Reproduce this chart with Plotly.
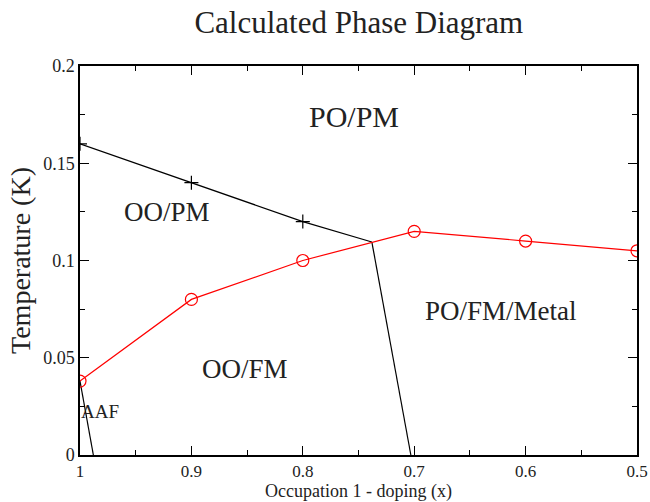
import plotly.graph_objects as go

# Phase boundaries (x = occupation 1 - doping, y = temperature)
upper_x = [1.0, 0.9, 0.8, 0.738]
upper_y = [0.16, 0.14, 0.12, 0.1095]
vert_x = [0.738, 0.703]
vert_y = [0.1095, 0.0]
aaf_x = [1.0, 0.988]
aaf_y = [0.038, 0.0]
cross_x = [1.0, 0.9, 0.8]
cross_y = [0.16, 0.14, 0.12]

# Curie temperature curve
tc_x = [1.0, 0.9, 0.8, 0.7, 0.6, 0.5]
tc_y = [0.038, 0.08, 0.10, 0.115, 0.11, 0.105]

# Region labels
region_names = ["PO/PM", "OO/PM", "OO/FM", "PO/FM/Metal", "AAF"]
region_x = [0.754, 0.922, 0.852, 0.622, 0.982]
region_y = [0.174, 0.125, 0.0442, 0.074, 0.0222]
region_sizes = [30, 27, 27, 27, 19]

FONT = "Liberation Serif, Times New Roman, serif"

fig = go.Figure()
fig.add_trace(go.Scatter(x=upper_x, y=upper_y, mode="lines",
                         line=dict(color="black", width=1.2), showlegend=False))
fig.add_trace(go.Scatter(x=vert_x, y=vert_y, mode="lines",
                         line=dict(color="black", width=1.2), showlegend=False))
fig.add_trace(go.Scatter(x=aaf_x, y=aaf_y, mode="lines",
                         line=dict(color="black", width=1.2), showlegend=False))
fig.add_trace(go.Scatter(x=cross_x, y=cross_y, mode="markers",
                         marker=dict(symbol="cross-thin", size=10,
                                     line=dict(color="black", width=1.2)),
                         showlegend=False))
fig.add_trace(go.Scatter(x=tc_x, y=tc_y, mode="lines+markers",
                         line=dict(color="red", width=1.2),
                         marker=dict(symbol="circle-open", size=12,
                                     color="red", line=dict(width=1.2)),
                         showlegend=False))

for name, x, y, s in zip(region_names, region_x, region_y, region_sizes):
    fig.add_annotation(x=x, y=y, text=name, showarrow=False,
                       font=dict(family=FONT, size=s, color="#222"))

axis_common = dict(
    showgrid=False, zeroline=False, showline=True, linecolor="black",
    linewidth=1.5, mirror="ticks", ticks="inside", ticklen=9,
    tickcolor="black", tickwidth=1, automargin=False,
    tickfont=dict(family=FONT, size=18, color="#222"),
)

fig.update_xaxes(
    range=[1.0, 0.5], tickvals=[1.0, 0.9, 0.8, 0.7, 0.6, 0.5],
    ticktext=["1", "0.9", "0.8", "0.7", "0.6", "0.5"],
    minor=dict(ticks="inside", ticklen=5, tickcolor="black", dtick=0.05,
               tick0=0.5, showgrid=False),
    title=dict(text="Occupation 1 - doping (x)", standoff=3,
               font=dict(family=FONT, size=18, color="#222")),
    **axis_common,
)
fig.update_xaxes(tickfont=dict(size=17))
fig.update_yaxes(
    range=[0, 0.2], tickvals=[0, 0.05, 0.1, 0.15, 0.2],
    ticktext=["0", "0.05", "0.1", "0.15", "0.2"],
    minor=dict(ticks="inside", ticklen=5, tickcolor="black", dtick=0.025,
               tick0=0, showgrid=False),
    title=dict(text="Temperature (K)", standoff=4,
               font=dict(family=FONT, size=28, color="#222")),
    **axis_common,
)

fig.update_layout(
    width=650, height=502,
    margin=dict(l=80, r=13, t=66, b=47),
    paper_bgcolor="white", plot_bgcolor="white",
    title=dict(text="Calculated Phase Diagram", x=0.552, xanchor="center",
               y=0.956, yanchor="middle",
               font=dict(family=FONT, size=31, color="#222")),
)

fig.write_html("out.html")
